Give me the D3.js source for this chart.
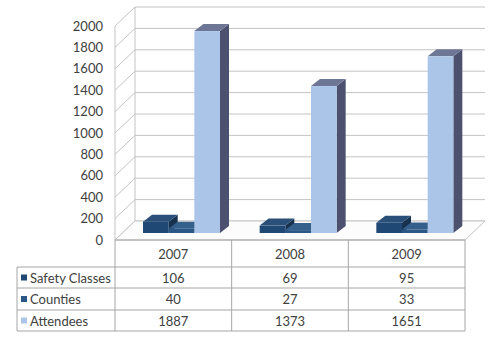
<!DOCTYPE html>
<html>
<head>
<meta charset="utf-8">
<script src="https://cdn.jsdelivr.net/npm/d3@7"></script>
<style>
  body { margin: 0; background: #fff; }
  text { font-family: Lato, "Open Sans", sans-serif; fill: #404040; }
</style>
</head>
<body>
<script>
const years = ['2007', '2008', '2009'];
const seriesNames = ['Safety Classes', 'Counties', 'Attendees'];
const safetyClasses = [106, 69, 95];
const counties = [40, 27, 33];
const attendees = [1887, 1373, 1651];
const yTicks = [0, 200, 400, 600, 800, 1000, 1200, 1400, 1600, 1800, 2000];

const colors = {
  'Safety Classes': { front: '#1f4875', side: '#16324f', top: '#2a4f78' },
  'Counties': { front: '#2b5786', side: '#1d3a5c', top: '#36608c' },
  'Attendees': { front: '#aac5e8', side: '#4c5170', top: '#6e7695' }
};

const W = 502, H = 337;
const left = 115, right = 465, floorY = 240, topY = 26;
const depth = { x: 20, y: -19 };   // floor/back wall depth
const barOff = { x: 8, y: -7 };    // where bars sit in depth
const barDepth = { x: 9, y: -7 };

const svg = d3.select('body').append('svg')
  .attr('width', W)
  .attr('height', H);

const x0 = d3.scaleBand().domain(years).range([left, right]);
const x1 = d3.scaleBand().domain(seriesNames).range([20, 97]);
const y = d3.scaleLinear().domain([0, 2000]).range([floorY, topY]);

const rows = seriesNames.map((name, i) => ({
  name,
  values: [safetyClasses, counties, attendees][i]
}));

// walls and gridlines
const grid = svg.append('g').attr('stroke', '#c4c4c4').attr('fill', 'none');
yTicks.forEach(t => {
  grid.append('line')
    .attr('x1', left + depth.x).attr('y1', y(t) + depth.y)
    .attr('x2', right + depth.x).attr('y2', y(t) + depth.y);
  grid.append('line')
    .attr('x1', left).attr('y1', y(t))
    .attr('x2', left + depth.x).attr('y2', y(t) + depth.y);
});
grid.append('line')
  .attr('x1', left).attr('y1', y(2000))
  .attr('x2', left).attr('y2', floorY);
grid.append('line')
  .attr('x1', left + depth.x).attr('y1', y(2000) + depth.y)
  .attr('x2', left + depth.x).attr('y2', floorY + depth.y);
grid.append('path')
  .attr('d', `M${left},${floorY}L${right},${floorY}L${right + depth.x},${floorY + depth.y}L${left + depth.x},${floorY + depth.y}Z`)
  .attr('fill', '#fcfcfc');

// y axis labels
const yAxis = svg.append('g')
  .attr('transform', `translate(103,0)`)
  .call(d3.axisLeft(y).tickValues(yTicks).tickSize(0).tickPadding(0).tickFormat(d3.format('d')));
yAxis.select('.domain').remove();
yAxis.selectAll('text')
  .attr('font-family', 'Lato, "Open Sans", sans-serif')
  .attr('font-size', 13)
  .attr('fill', '#404040');

// bars
const bars = [];
years.forEach((yr, i) => {
  rows.forEach(r => bars.push({ year: yr, name: r.name, value: r.values[i] }));
});

const barG = svg.append('g');
bars.forEach(d => {
  const c = colors[d.name];
  const xa = x0(d.year) + x1(d.name) + barOff.x;
  const xb = xa + x1.bandwidth();
  const yb = floorY + barOff.y;
  const yt = y(d.value) + barOff.y;
  const g = barG.append('g');
  // side
  g.append('path')
    .attr('d', `M${xb},${yb}L${xb + barDepth.x},${yb + barDepth.y}L${xb + barDepth.x},${yt + barDepth.y}L${xb},${yt}Z`)
    .attr('fill', c.side);
  // top
  g.append('path')
    .attr('d', `M${xa},${yt}L${xb},${yt}L${xb + barDepth.x},${yt + barDepth.y}L${xa + barDepth.x},${yt + barDepth.y}Z`)
    .attr('fill', c.top);
  // front
  g.append('rect')
    .attr('x', xa).attr('y', yt)
    .attr('width', x1.bandwidth()).attr('height', yb - yt)
    .attr('fill', c.front);
});

// data table
const tLeft = 17;
const rowY = [floorY, 267, 288, 310, 331];
const table = svg.append('g').attr('stroke', '#a6a6a6').attr('fill', 'none');
rowY.slice(1).forEach(ry => {
  table.append('line').attr('x1', tLeft).attr('x2', right).attr('y1', ry).attr('y2', ry);
});
table.append('line').attr('x1', left).attr('x2', right).attr('y1', floorY).attr('y2', floorY);
years.forEach(yr => {
  table.append('line').attr('x1', x0(yr)).attr('x2', x0(yr)).attr('y1', floorY).attr('y2', rowY[4]);
});
table.append('line').attr('x1', right).attr('x2', right).attr('y1', floorY).attr('y2', rowY[4]);
table.append('line').attr('x1', tLeft).attr('x2', tLeft).attr('y1', rowY[1]).attr('y2', rowY[4]);

svg.selectAll('.yr')
  .data(years)
  .join('text')
  .attr('class', 'yr')
  .attr('x', d => x0(d) + x0.bandwidth() / 2)
  .attr('y', (rowY[0] + rowY[1]) / 2 + 5)
  .attr('text-anchor', 'middle')
  .attr('font-size', 13)
  .text(d => d);

rows.forEach((r, ri) => {
  const cy = (rowY[ri + 1] + rowY[ri + 2]) / 2;
  svg.append('rect')
    .attr('x', 21).attr('y', cy - 3)
    .attr('width', 6).attr('height', 6)
    .attr('fill', colors[r.name].front);
  svg.append('text')
    .attr('x', 30).attr('y', cy + 5)
    .attr('font-size', 13)
    .text(r.name);
  years.forEach((yr, i) => {
    svg.append('text')
      .attr('x', x0(yr) + x0.bandwidth() / 2)
      .attr('y', cy + 5)
      .attr('text-anchor', 'middle')
      .attr('font-size', 13)
      .text(r.values[i]);
  });
});
</script>
</body>
</html>
